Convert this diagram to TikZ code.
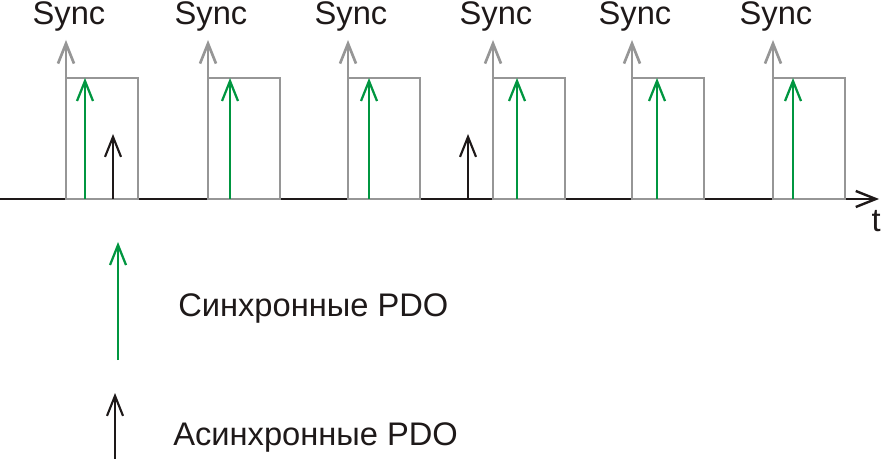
\documentclass[tikz,border=0pt]{standalone}
\usepackage{fontspec}
\setmainfont{Liberation Sans}
\usetikzlibrary{arrows.meta}
\definecolor{syncgray}{RGB}{150,150,150}
\definecolor{pdogreen}{RGB}{0,150,64}
\definecolor{pdoblack}{RGB}{30,25,25}

\begin{document}
\begin{tikzpicture}[x=0.75pt,y=-0.75pt]
\tikzset{barb/.style={-{Straight Barb[length=15pt,width=12pt]}},
		frame/.style={draw=syncgray, line width=2pt},
		syncarrow/.style={barb, draw=syncgray, line width=2pt},
		pdosync/.style={barb, draw=pdogreen, line width=1.7pt},
		pdoasync/.style={barb, draw=pdoblack, line width=1.6pt},
		axis/.style={barb, draw=pdoblack, line width=1.8pt},
		label/.style={inner sep=0pt, font=\fontsize{24.5}{28}\selectfont, text=pdoblack}}
\useasboundingbox (0,0) rectangle (881,459);
% time axis
\coordinate (O) at (0,199);
\coordinate (T) at (879,199);
\draw[axis] (O) -- (T);
\node[label, anchor=base east] (tlabel) at (881,232) {t};
% sync windows with synchronous PDO
\foreach \i/\l/\g in {1/66/85, 2/208/230, 3/348/369, 4/493/517, 5/632/657, 6/773/793} {
	\coordinate (B\i) at (\l,199);
	\coordinate (C\i) at (\l+72,199);
	\coordinate (E\i) at (\l,78);
	\coordinate (F\i) at (\l,40);
	\draw[frame] (B\i) -- (E\i) -| (C\i) -- cycle;
	\draw[syncarrow] (E\i) -- (F\i);
	\node[label, anchor=base] (S\i) at (\l+3,25) {Sync};
	\coordinate (G\i) at (\g,199);
	\coordinate (H\i) at (\g,78);
	\draw[pdosync] (G\i) -- (H\i);
}
% asynchronous PDO
\foreach \i/\a in {1/113, 2/468} {
	\coordinate (A\i) at (\a,199);
	\coordinate (K\i) at (\a,134);
	\draw[pdoasync] (A\i) -- (K\i);
}
% legend
\coordinate (LG1) at (118,360);
\coordinate (LG2) at (118,242);
\draw[pdosync] (LG1) -- (LG2);
\node[label, anchor=base west] (synctext) at (178,317) {Синхронные PDO};
\coordinate (LA1) at (115,459);
\coordinate (LA2) at (115,393);
\draw[pdoasync] (LA1) -- (LA2);
\node[label, anchor=base west] (asynctext) at (173,445) {Асинхронные PDO};
\end{tikzpicture}
\end{document}
